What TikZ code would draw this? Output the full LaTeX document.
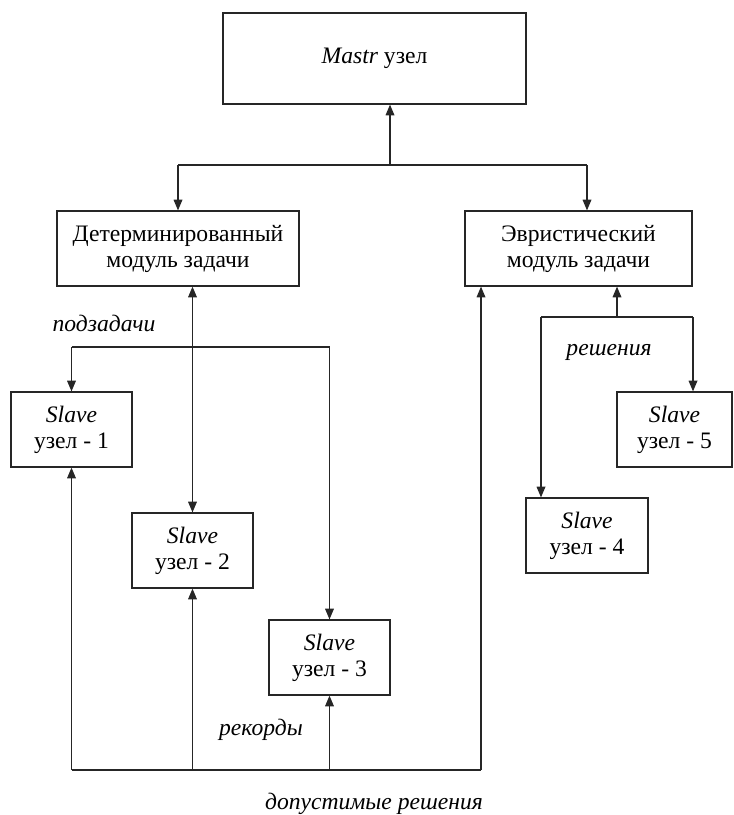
\documentclass[tikz,border=0pt]{standalone}
\usepackage{fontspec}
\setmainfont{Liberation Serif}
\usetikzlibrary{arrows.meta}
\begin{document}
\begin{tikzpicture}[x=0.75pt,y=-0.75pt,
  box/.style={draw=black!85,line width=0.9pt,minimum height=56.25pt,align=center,inner sep=0pt,font=\fontsize{17.7}{19.5}\selectfont},
  conn/.style={draw=black!85,line width=0.9pt},
  tip/.tip={Triangle[length=8pt,width=6.5pt]},
  arr/.style={conn,-tip},
  lbl/.style={font=\fontsize{17.7}{19.5}\selectfont\itshape}]
\useasboundingbox (0,0) rectangle (733,815);
% boxes
\node[box,minimum width=227.25pt,minimum height=68.25pt] (M) at (374.5,58.5) {\textit{Mastr} узел};
\node[box,minimum width=181.5pt] (D) at (178,248.5) {Детерминированный\\модуль задачи};
\node[box,minimum width=170.25pt] (E) at (578.5,248.5) {Эвристический\\модуль задачи};
\node[box,minimum width=90.75pt] (S1) at (71.5,429.5) {\textit{Slave}\\узел - 1};
\node[box,minimum width=90.75pt] (S2) at (192.5,550.5) {\textit{Slave}\\узел - 2};
\node[box,minimum width=90.75pt] (S3) at (329.5,657.5) {\textit{Slave}\\узел - 3};
\node[box,minimum width=91.5pt] (S4) at (587,535.5) {\textit{Slave}\\узел - 4};
\node[box,minimum width=86.25pt] (S5) at (674.5,429.5) {\textit{Slave}\\узел - 5};
% labels
\node[lbl] (lp) at (104,323) {подзадачи};
\node[lbl] (lr) at (609,352) {решения};
\node[lbl] (lk) at (261,730) {рекорды};
\node[lbl] (ld) at (374,804) {допустимые решения};
% top distribution
\coordinate (jm) at (390,165);
\coordinate (jl) at (178,165);
\coordinate (jr) at (587,165);
\draw[arr] (jm) -- (jm |- M.south);
\draw[conn] (jl) -- (jr);
\draw[arr] (jl) -- (D.north);
\draw[arr] (jr) -- (jr |- E.north);
% det <-> slave 2
\draw[conn,tip-tip] (S2.north |- D.south) -- (S2.north);
% subtasks
\coordinate (pl) at (71.5,347);
\coordinate (pr) at (329.5,347);
\draw[conn] (pl) -- (pr);
\draw[arr] (pl) -- (S1.north);
\draw[arr] (pr) -- (S3.north);
% records / feasible solutions
\coordinate (bl) at (71.5,770);
\coordinate (br) at (481,770);
\draw[conn] (bl) -- (br);
\draw[arr] (bl) -- (S1.south);
\draw[arr] (S2.south |- bl) -- (S2.south);
\draw[arr] (S3.south |- bl) -- (S3.south);
\draw[arr] (br) -- (br |- E.south);
% heuristic solutions
\coordinate (hm) at (617,317);
\coordinate (hl) at (541,317);
\coordinate (hr) at (693,317);
\draw[arr] (hm) -- (hm |- E.south);
\draw[conn] (hl) -- (hr);
\draw[arr] (hl) -- (hl |- S4.north);
\draw[arr] (hr) -- (hr |- S5.north);
\end{tikzpicture}
\end{document}
